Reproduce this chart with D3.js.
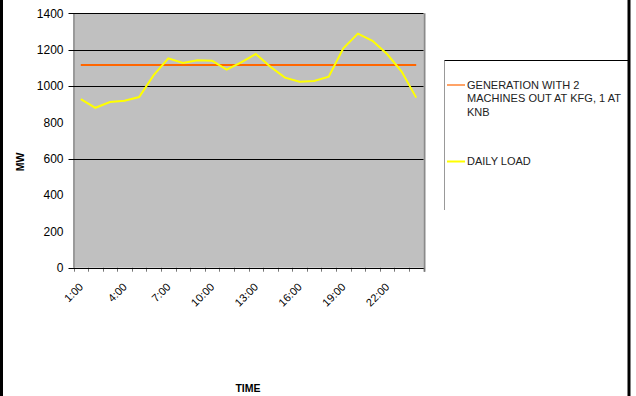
<!DOCTYPE html>
<html><head><meta charset="utf-8">
<script src="https://cdn.jsdelivr.net/npm/d3@7"></script>
<style>
html,body{margin:0;padding:0;background:#fff;}
svg{display:block;font-family:"Liberation Sans",Arial,sans-serif;}
</style></head>
<body><svg id="c" width="636" height="396"></svg>
<script>
const categories = ["1:00","2:00","3:00","4:00","5:00","6:00","7:00","8:00","9:00","10:00","11:00","12:00","13:00","14:00","15:00","16:00","17:00","18:00","19:00","20:00","21:00","22:00","23:00","24:00"];
const dailyLoad = [928,880,912,919,939,1060,1152,1127,1141,1139,1090,1130,1176,1106,1046,1024,1028,1051,1207,1288,1249,1176,1079,936];
const generation = categories.map(() => 1116);
const yTicks = [0,200,400,600,800,1000,1200,1400];
const gridValues = [0,600,1000,1200,1400];
const shownLabels = ["1:00","4:00","7:00","10:00","13:00","16:00","19:00","22:00"];
const seriesColors = ["#FF6600","#FFFF00"];

const svg = d3.select("#c");
const L = 73.5, R = 423.5, T = 13.3, B = 267.7;

// outer frame
svg.append("line").attr("x1",1.5).attr("x2",1.5).attr("y1",0).attr("y2",396).attr("stroke","#000").attr("stroke-width",3);
svg.append("line").attr("x1",629).attr("x2",629).attr("y1",0).attr("y2",396).attr("stroke","#000").attr("stroke-width",3);

const x = d3.scaleBand().domain(categories).range([L,R]).padding(0);
const y = d3.scaleLinear().domain([0,1400]).range([B,T]);

// plot area
svg.append("rect").attr("x",L).attr("y",T).attr("width",R-L).attr("height",B-T).attr("fill","#C0C0C0");
svg.append("line").attr("x1",L+0.5).attr("x2",L+0.5).attr("y1",T).attr("y2",B).attr("stroke","#9a9a9a").attr("stroke-width",2);
svg.append("line").attr("x1",R+1).attr("x2",R+1).attr("y1",T).attr("y2",B+4).attr("stroke","#8a8a8a").attr("stroke-width",2);

// gridlines
svg.append("g").selectAll("line").data(gridValues).join("line")
  .attr("x1",L-5).attr("x2",R).attr("y1",d=>Math.round(y(d))+0.5).attr("y2",d=>Math.round(y(d))+0.5)
  .attr("stroke","#000").attr("stroke-width",1);

// y axis labels
const yAxis = d3.axisLeft(y).tickValues(yTicks).tickSize(0).tickPadding(10).tickFormat(d3.format("d"));
const gy = svg.append("g").attr("transform",`translate(${L},0)`).call(yAxis);
gy.select(".domain").remove();
gy.selectAll("text").attr("font-size",12).attr("fill","#000").attr("font-family","Liberation Sans, Arial, sans-serif");

// x axis
const xAxis = d3.axisBottom(x).tickSize(0).tickFormat(d => shownLabels.includes(d) ? d : "");
const gx = svg.append("g").attr("transform",`translate(0,${B})`).call(xAxis);
gx.select(".domain").remove();
gx.selectAll("text").attr("font-size",11).attr("fill","#000").attr("font-family","Liberation Sans, Arial, sans-serif")
  .attr("text-anchor","end").attr("dy",0).attr("dx",0).attr("y",0)
  .attr("transform", "translate(3,20) rotate(-45)");
// category boundary ticks
const bounds = categories.map(c => x(c)).concat([R]);
svg.append("g").selectAll("line").data(bounds).join("line")
  .attr("x1",d=>Math.round(d)+0.5).attr("x2",d=>Math.round(d)+0.5).attr("y1",B).attr("y2",B+4)
  .attr("stroke","#777").attr("stroke-width",1);
svg.append("line").attr("x1",L).attr("x2",R).attr("y1",Math.round(B)+0.5).attr("y2",Math.round(B)+0.5).attr("stroke","#000");

// series
const line = d3.line().x((d,i)=>x(categories[i])+x.bandwidth()/2).y(d=>y(d));
svg.append("path").datum(generation).attr("d",line).attr("fill","none").attr("stroke",seriesColors[0]).attr("stroke-width",2);
svg.append("path").datum(dailyLoad).attr("d",line).attr("fill","none").attr("stroke",seriesColors[1]).attr("stroke-width",2);

// axis titles
svg.append("text").attr("x",248).attr("y",392).attr("text-anchor","middle").attr("font-size",10.5).attr("font-weight","bold").text("TIME");
svg.append("text").attr("transform","translate(24,162) rotate(-90)").attr("text-anchor","middle").attr("font-size",10.5).attr("font-weight","bold").text("MW");

// legend
const lg = svg.append("g");
lg.append("line").attr("x1",444.5).attr("x2",444.5).attr("y1",60.5).attr("y2",210).attr("stroke","#999");
lg.append("line").attr("x1",444.5).attr("x2",628).attr("y1",60.5).attr("y2",60.5).attr("stroke","#000");
const legendLines = [["GENERATION WITH 2","MACHINES OUT AT KFG, 1 AT","KNB"],["DAILY LOAD"]];
const legendY = [85, 161.5];
legendLines.forEach((lines,k)=>{
  lg.append("line").attr("x1",447).attr("x2",465).attr("y1",legendY[k]).attr("y2",legendY[k]).attr("stroke",seriesColors[k]).attr("stroke-width",k===0?1.2:2);
  lines.forEach((s,j)=> {
    const t = lg.append("text").attr("x",467).attr("y",legendY[k]+3.8+13.5*j).attr("font-size",11).attr("fill","#222").text(s);
    if (k===0 && j===1) t.attr("textLength",154).attr("lengthAdjust","spacing");
  });
});
</script></body></html>
